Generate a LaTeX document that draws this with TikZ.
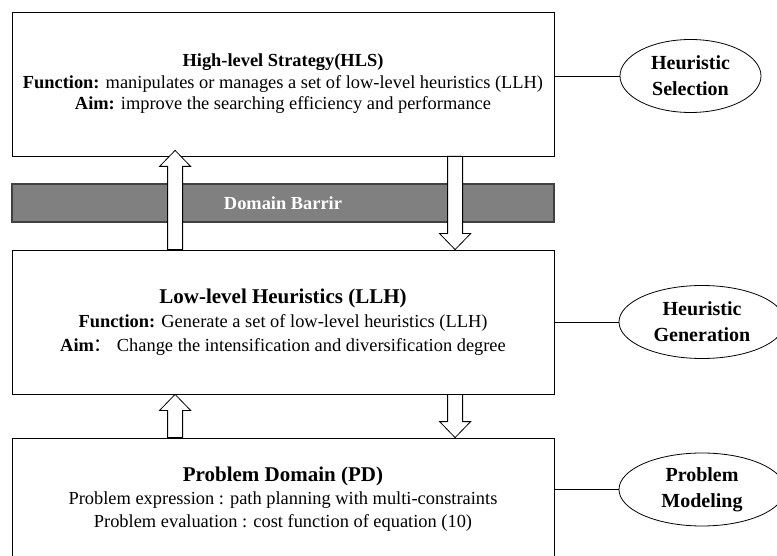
\documentclass[tikz,border=0pt]{standalone}
\usepackage{fontspec}
\setmainfont{Liberation Serif}
\newfontfamily\cjk{Noto Sans CJK SC}
\usepackage{tikz}
\usetikzlibrary{shapes.geometric, calc}

% hollow block arrow from #1 (tail) to #2 (tip)
\newcommand{\fatarrow}[2]{%
  \draw[fat] let \p1=#1, \p2=#2, \n1={sign(\y2-\y1)} in
    (\x1-7.5pt,\y1) -- (\x1-7.5pt,\y2-\n1*16pt) -- (\x1-15.5pt,\y2-\n1*16pt)
    -- (\x1,\y2) -- (\x1+15.5pt,\y2-\n1*16pt) -- (\x1+7.5pt,\y2-\n1*16pt)
    -- (\x1+7.5pt,\y1) -- cycle;}

\begin{document}
\begin{tikzpicture}[
    x=1pt, y=-1pt,
    layer/.style={rectangle, draw, line width=0.8pt, minimum width=542pt, inner sep=0pt, align=center},
    barrier/.style={rectangle, draw=black!75, line width=1.2pt, fill=black!50, minimum width=542pt, minimum height=38pt, text=white, font=\fontsize{18.4}{21}\selectfont\bfseries},
    role/.style={ellipse, draw, line width=0.8pt, minimum height=73pt, inner sep=0pt, align=center, font=\fontsize{20}{26}\selectfont\bfseries},
    fat/.style={draw, fill=white, line width=0.8pt, line join=miter},
    link/.style={line width=0.8pt}
]
\useasboundingbox (0,0) rectangle (777,556);
\clip (0,0) rectangle (777,556);

% layers
\node[layer, minimum height=144pt, font=\fontsize{18.4}{21.5}\selectfont] (HLS) at (283,84)
  {\textbf{High-level Strategy(HLS)}\\
   \textbf{Function:} manipulates or manages a set of low-level heuristics (LLH)\\
   \textbf{Aim:} improve the searching efficiency and performance};
\node[barrier] (Barrier) at (283,203) {Domain Barrir};
\node[layer, minimum height=144pt, font=\fontsize{18.4}{24}\selectfont] (LLH) at (283,322)
  {{\fontsize{21}{24}\selectfont\textbf{Low-level Heuristics (LLH)}}\\
   \textbf{Function:} Generate a set of low-level heuristics (LLH)\\
   \textbf{Aim}{\cjk ：}\ Change the intensification and diversification degree};
\node[layer, minimum height=122pt, font=\fontsize{18.4}{23}\selectfont] (PD) at (283,499)
  {{\fontsize{21}{24}\selectfont\textbf{Problem Domain (PD)}}\\
   Problem expression : path planning with multi-constraints\\
   Problem evaluation : cost function of equation (10)};

% roles
\node[role, minimum width=141pt] (Selection) at (690.5,76) {Heuristic\\Selection};
\node[role, minimum width=166pt] (Generation) at (702,322) {Heuristic\\Generation};
\node[role, minimum width=166pt] (Modeling) at (702,489.5) {Problem\\Modeling};

% links
\draw[link] (HLS.east |- Selection.west) -- (Selection.west);
\draw[link] (LLH.east |- Generation.west) -- (Generation.west);
\draw[link] (PD.east |- Modeling.west) -- (Modeling.west);

% block arrows
\fatarrow{([xshift=163.5pt]LLH.north west)}{([xshift=163.5pt, yshift=6pt]HLS.south west)}
\fatarrow{([xshift=443.5pt]HLS.south west)}{([xshift=443.5pt]LLH.north west)}
\fatarrow{([xshift=163.5pt]PD.north west)}{([xshift=163.5pt]LLH.south west)}
\fatarrow{([xshift=443.5pt]LLH.south west)}{([xshift=443.5pt]PD.north west)}

\end{tikzpicture}
\end{document}
